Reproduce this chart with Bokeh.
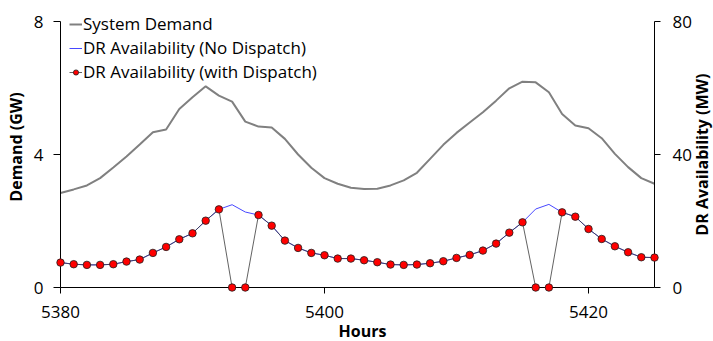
import math
from bokeh.plotting import figure
from bokeh.models import (Range1d, LinearAxis, FixedTicker, Legend, LegendItem,
                          ColumnDataSource)
from bokeh.core.properties import value
from bokeh.embed import file_html
from bokeh.resources import INLINE

# ---------------- data ----------------
hours = list(range(5380, 5426))
demand_gw = [2.84, 2.95, 3.07, 3.29, 3.61, 3.94, 4.30, 4.67, 4.75, 5.37,
             5.72, 6.05, 5.77, 5.59, 4.99, 4.84, 4.81, 4.47, 4.00, 3.60,
             3.29, 3.12, 3.00, 2.96, 2.97, 3.07, 3.22, 3.45, 3.87, 4.29,
             4.65, 4.96, 5.27, 5.62, 5.99, 6.19, 6.17, 5.87, 5.22, 4.87,
             4.79, 4.49, 4.02, 3.62, 3.29, 3.12]
dr_no_dispatch_mw = [7.5, 7.0, 6.8, 6.8, 7.0, 7.8, 8.4, 10.4, 12.2, 14.5,
                     16.3, 20.1, 23.5, 24.9, 22.7, 21.8, 18.6, 14.1, 11.9, 10.4,
                     9.7, 8.7, 8.7, 8.2, 7.6, 6.9, 6.8, 6.9, 7.3, 7.9,
                     8.9, 9.8, 11.1, 13.2, 16.5, 19.6, 23.6, 25.0, 22.6, 21.3,
                     17.6, 14.6, 12.4, 10.6, 9.1, 9.0]
dr_dispatch_mw = [7.5, 7.0, 6.8, 6.8, 7.0, 7.8, 8.4, 10.4, 12.2, 14.5,
                  16.3, 20.1, 23.5, 0.0, 0.0, 21.8, 18.6, 14.1, 11.9, 10.4,
                  9.7, 8.7, 8.7, 8.2, 7.6, 6.9, 6.8, 6.9, 7.3, 7.9,
                  8.9, 9.8, 11.1, 13.2, 16.5, 19.6, 0.0, 0.0, 22.6, 21.3,
                  17.6, 14.6, 12.4, 10.6, 9.1, 9.0]
x_ticks = [5380, 5400, 5420]
demand_ticks = [0, 4, 8]
dr_ticks = [0, 40, 80]
series_names = ["System Demand", "DR Availability (No Dispatch)",
                "DR Availability (with Dispatch)"]
x_title = "Hours"
y_title = "Demand (GW)"
y2_title = "DR Availability  (MW)"

X0, X1 = hours[0], hours[-1]
Y0, Y1 = demand_ticks[0], demand_ticks[-1]

# layout (pixels): plot frame spans y 6..287, axis 0..8 spans y 21..287
FRAME_TOP, AXIS_TOP, FRAME_BOTTOM = 6, 21, 287
head = (FRAME_BOTTOM - FRAME_TOP) / (FRAME_BOTTOM - AXIS_TOP)

src = ColumnDataSource(dict(h=hours, demand=demand_gw,
                            nd=dr_no_dispatch_mw, wd=dr_dispatch_mw))

FONT = "Open Sans"

p = figure(width=713, height=341, output_backend="svg", toolbar_location=None,
           x_range=Range1d(X0, X1), y_range=Range1d(Y0, Y1 * head),
           min_border_left=60, min_border_right=59, min_border_top=FRAME_TOP,
           min_border_bottom=341 - FRAME_BOTTOM)
p.extra_y_ranges = {"dr": Range1d(dr_ticks[0], dr_ticks[-1] * head)}
p.outline_line_color = None
p.grid.visible = False
p.background_fill_color = "white"
p.border_fill_color = "white"

r_dem = p.line("h", "demand", source=src, line_color="#808080", line_width=2)
r_nd = p.line("h", "nd", source=src, y_range_name="dr",
              line_color="#4848ff", line_width=1)
r_wd = p.line("h", "wd", source=src, y_range_name="dr",
              line_color="#3a3a3a", line_width=0.8)
r_pts = p.scatter("h", "wd", source=src, y_range_name="dr", size=7.5,
                  fill_color="#ff0000", line_color="#202020", line_width=0.8,
                  level="overlay")

# axes
xa = p.xaxis[0]
xa.ticker = FixedTicker(ticks=x_ticks)
ya = p.yaxis[0]
ya.ticker = FixedTicker(ticks=demand_ticks)
ya.bounds = (Y0, Y1)
ya.axis_label = y_title
ra = LinearAxis(y_range_name="dr", ticker=FixedTicker(ticks=dr_ticks),
                bounds=(dr_ticks[0], dr_ticks[-1]))
p.add_layout(ra, "right")

for ax, tout, stand in ((xa, 6, 12), (ya, 7, 10), (ra, 6, 12)):
    ax.major_tick_out = tout
    ax.major_tick_in = 0
    ax.minor_tick_out = 0
    ax.minor_tick_in = 0
    ax.axis_line_color = "black"
    ax.major_tick_line_color = "black"
    ax.major_label_standoff = stand
    ax.major_label_text_font = FONT
    ax.major_label_text_font_size = "17px"
    ax.major_label_text_color = "black"

ya.axis_label_standoff = 4
ya.axis_label_text_font = FONT
ya.axis_label_text_font_size = "16px"
ya.axis_label_text_font_style = "bold"
ya.axis_label_text_color = "black"

# axis titles drawn as unclipped text glyphs, offset in pixels from the frame
p.text(x=[(X0 + X1) / 2], y=[Y0], text=[x_title], x_offset=5, y_offset=43,
       text_align="center", text_baseline="alphabetic",
       text_font=value(FONT), text_font_size="16px", text_font_style="bold",
       text_color="black", level="overlay")
p.text(x=[X1], y=[(Y0 + Y1) / 2], text=[y2_title], x_offset=47, y_offset=-2,
       angle=math.pi / 2, text_align="center", text_baseline="middle",
       text_font=value(FONT), text_font_size="16px", text_font_style="bold",
       text_color="black", level="overlay")

legend = Legend(items=[LegendItem(label=series_names[0], renderers=[r_dem]),
                       LegendItem(label=series_names[1], renderers=[r_nd]),
                       LegendItem(label=series_names[2], renderers=[r_wd, r_pts])],
                location=(9, 204), padding=0, margin=0, spacing=1,
                glyph_width=13, glyph_height=20, label_standoff=1,
                label_text_font=FONT, label_text_font_size="17px",
                label_text_color="black", border_line_color=None,
                background_fill_alpha=0)
p.add_layout(legend)

open("out.html", "w").write(file_html(p, INLINE))
